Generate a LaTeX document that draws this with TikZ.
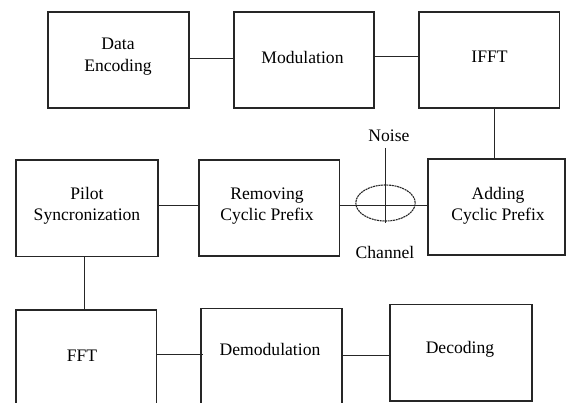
\documentclass[tikz,border=0pt]{standalone}
\usepackage{fontspec}
\setmainfont{Liberation Serif}
\usetikzlibrary{shapes.geometric,calc}
\begin{document}
\begin{tikzpicture}[x=1pt,y=-1pt,
  blk/.style={draw=black!85,line width=1.3pt,rectangle,inner sep=0pt,minimum height=96pt},
  lbl/.style={inner sep=0pt,align=center,font=\fontsize{17.6}{21.5}\selectfont},
  wire/.style={draw=black!85,line width=1.5pt}]
\clip (0,0) rectangle (566,403);
\fill[white] (0,0) rectangle (566,403);
% boxes
\node[blk,minimum width=141pt] (de) at (118.5,60) {};
\node[blk,minimum width=140pt] (mod) at (304,60) {};
\node[blk,minimum width=140.5pt] (ifft) at (489.25,60) {};
\node[blk,minimum width=142pt,minimum height=96.5pt] (pilot) at (87,208.25) {};
\node[blk,minimum width=140.5pt] (rem) at (269.25,208) {};
\node[blk,minimum width=137pt] (add) at (496.5,207) {};
\node[blk,minimum width=140.5pt,minimum height=100pt] (fft) at (86.25,360) {};
\node[blk,minimum width=141pt,minimum height=101.5pt] (dem) at (271.5,359.25) {};
\node[blk,minimum width=142pt,minimum height=96.5pt] (dec) at (461,352.75) {};
\node[draw=black!85,line width=1.1pt,dash pattern=on 2pt off 0.7pt,ellipse,inner sep=0pt,minimum width=59.4pt,minimum height=36pt] (ch) at (385.5,203) {};
% labels
\node[lbl] (de-t) at (118,56.5) {Data\\Encoding};
\node[lbl] (mod-t) at (302.5,57) {Modulation};
\node[lbl] (ifft-t) at (489.5,57) {IFFT};
\node[lbl] (pilot-t) at (87,206) {Pilot\\Syncronization};
\node[lbl] (rem-t) at (267,206) {Removing\\Cyclic Prefix};
\node[lbl] (add-t) at (498,206) {Adding\\Cyclic Prefix};
\node[lbl] (noise) at (389,136) {Noise};
\node[lbl] (chan) at (385,252) {Channel};
\node[lbl] (fft-t) at (82,355.5) {FFT};
\node[lbl] (dem-t) at (270,349.5) {Demodulation};
\node[lbl] (dec-t) at (460,349.5) {Decoding};
% connectors
\draw[wire] (de.east |- 0,58.5) -- (mod.west |- 0,58.5);
\draw[wire] (mod.east |- 0,56.5) -- (ifft.west |- 0,56.5);
\draw[wire] (ifft.south -| 494.5,0) -- (add.north -| 494.5,0);
\draw[wire] (pilot.east |- 0,205.5) -- (rem.west |- 0,205.5);
\draw[wire] (rem.east |- 0,205.5) -- (add.west |- 0,205.5);
\draw[wire] (ch.center |- 0,148) -- ($(ch.south)+(0,1)$);
\draw[wire] (pilot.south -| 84.5,0) -- (fft.north -| 84.5,0);
\draw[wire] (fft.east |- 0,354.5) -- ($(dem.west |- 0,354.5)+(3,0)$);
\draw[wire] (dem.east |- 0,355.5) -- (dec.west |- 0,355.5);
\end{tikzpicture}
\end{document}
